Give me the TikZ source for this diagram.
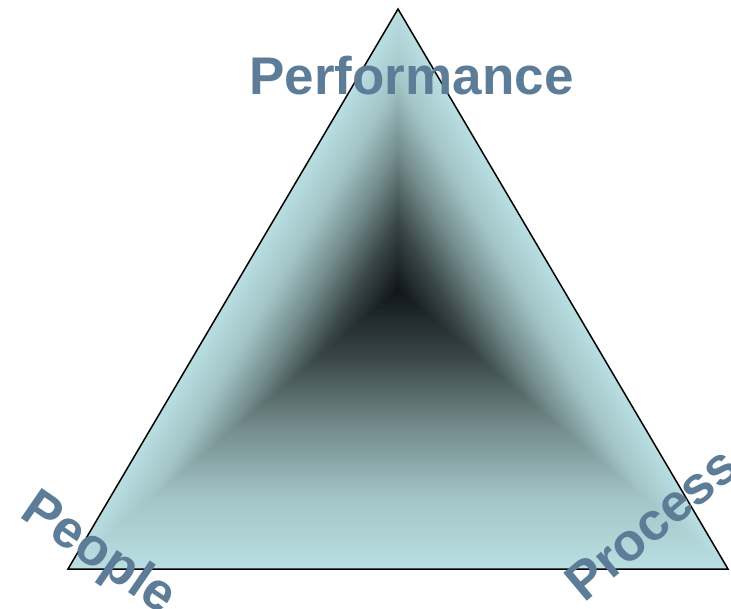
\documentclass[tikz,border=0pt]{standalone}
\usepackage{fontspec}
\setmainfont{Liberation Sans}
\definecolor{cA}{HTML}{101519}
\definecolor{cB}{HTML}{3A4748}
\definecolor{cC}{HTML}{748C8D}
\definecolor{cD}{HTML}{A3C5C7}
\definecolor{cE}{HTML}{B9DFE2}
\definecolor{txtc}{HTML}{5D7C97}
\newcommand\shadetri[2]{%
  \fill[fill=#2, shift={(398,290)}, scale=#1] (0,-281) -- (-330,279) -- (330,279) -- cycle;}
\tikzset{lbl/.style={text=txtc, font=\bfseries\fontsize{53}{60}\selectfont, inner sep=0pt, anchor=base}}
\begin{document}
\begin{tikzpicture}[x=1pt,y=-1pt]
\useasboundingbox (0,0) rectangle (731,609);
\clip (0,0) rectangle (731,609);
% homothetic gradient fill
\foreach \hi/\lo/\shi in {cE/cD/1, cD/cC/0.75, cC/cB/0.5, cB/cA/0.25}{
  \foreach \k in {0,...,29}{
    \pgfmathsetmacro\p{100-\k*100/30}
    \pgfmathsetmacro\s{\shi-\k/120}
    \shadetri{\s}{\hi!\p!\lo}
  }
}
\coordinate (apex) at (398,9);
\coordinate (bl) at (68,569);
\coordinate (br) at (728,569);
\draw[line width=1.5pt, line join=miter] (apex) -- (bl) -- (br) -- cycle;
\node[lbl] (perf) at (411.5,95) {Performance};
\node[lbl, rotate=-34.5] (people) at (90,566) {People};
\node[lbl, rotate=40] (process) at (663,537.4) {Process};
\end{tikzpicture}
\end{document}
